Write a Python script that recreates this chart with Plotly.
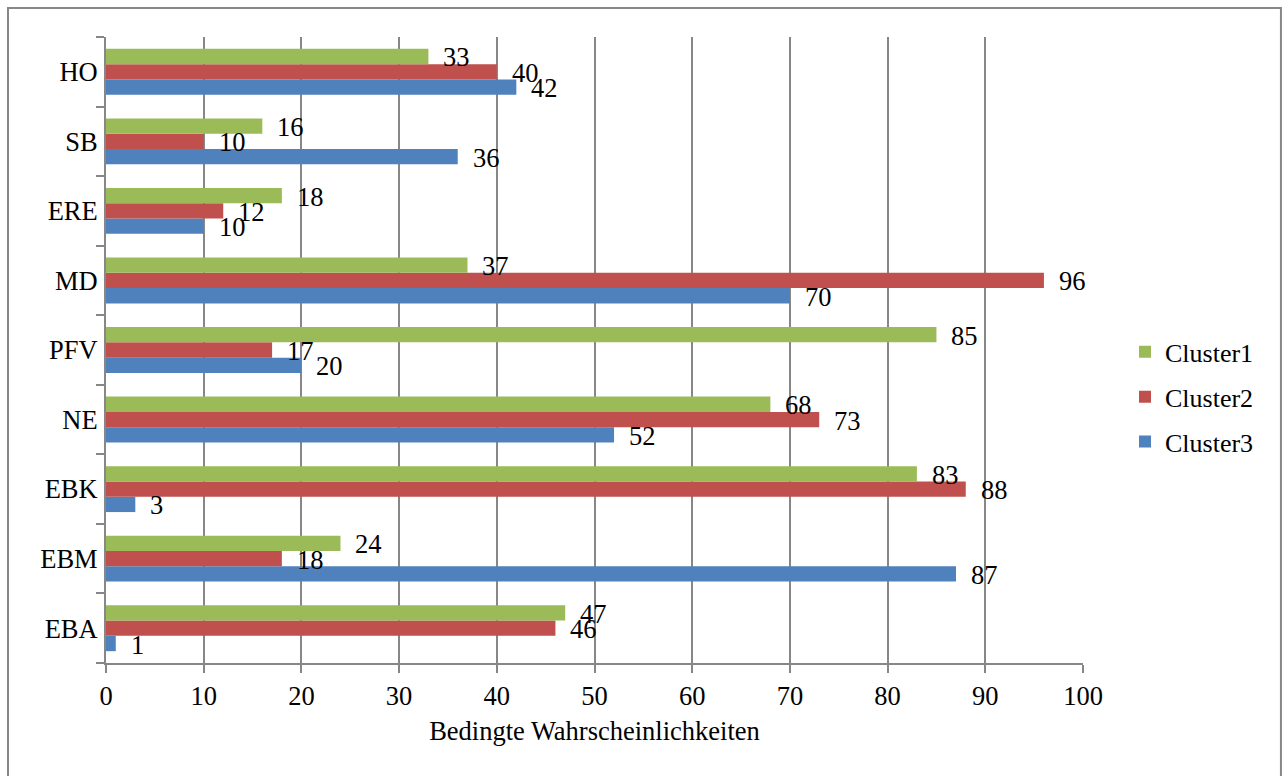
import plotly.graph_objects as go

# Categories listed bottom to top
categories = ["EBA", "EBM", "EBK", "NE", "PFV", "MD", "ERE", "SB", "HO"]
cluster1 = [47, 24, 83, 68, 85, 37, 18, 16, 33]
cluster2 = [46, 18, 88, 73, 17, 96, 12, 10, 40]
cluster3 = [1, 87, 3, 52, 20, 70, 10, 36, 42]
x_ticks = [0, 10, 20, 30, 40, 50, 60, 70, 80, 90, 100]

FONT = "Liberation Serif, Times New Roman, serif"
FS = 26.5
GRID = "#878787"
BARGAP = 0.34

# Plotly stacks grouped horizontal bars bottom-up in trace order,
# so Cluster3 goes first to sit at the bottom of each group.
# The last field is the legend rank (Cluster1 listed on top).
series = [
    ("Cluster3", cluster3, "#4F81BD", 3),
    ("Cluster2", cluster2, "#C0504D", 2),
    ("Cluster1", cluster1, "#9BBB59", 1),
]

positions = list(range(len(categories)))
bar_w = (1 - BARGAP) / len(series)

fig = go.Figure()
annotations = []
for k, (name, vals, color, rank) in enumerate(series):
    fig.add_trace(go.Bar(
        name=name, x=vals, y=positions, orientation="h",
        marker=dict(color=color, line=dict(width=0)),
        legendgroup=name, legendrank=rank,
    ))
    offset = -(1 - BARGAP) / 2 + bar_w * (k + 0.5)
    for p, v in zip(positions, vals):
        annotations.append(dict(
            x=v, y=p + offset, text=str(v), showarrow=False,
            xanchor="left", yanchor="middle", xshift=13, yshift=-1,
            font=dict(family=FONT, size=FS, color="black"),
        ))

fig.update_layout(
    width=1282, height=776,
    margin=dict(l=106, r=199, t=37, b=113),
    paper_bgcolor="white", plot_bgcolor="white",
    barmode="group", bargap=BARGAP, bargroupgap=0,
    font=dict(family=FONT, size=FS, color="black"),
    annotations=annotations,
    showlegend=True,
    legend=dict(
        x=1.043, y=0.425, xanchor="left", yanchor="middle",
        traceorder="grouped", tracegroupgap=8,
        font=dict(family=FONT, size=26, color="black"),
        itemwidth=30, bgcolor="rgba(0,0,0,0)",
    ),
    shapes=[dict(
        type="rect", xref="paper", yref="paper",
        x0=-0.1003, x1=1.2026, y0=-0.3, y1=1.0463,
        line=dict(color=GRID, width=2), fillcolor="rgba(0,0,0,0)",
        layer="below",
    )],
)

fig.update_xaxes(
    range=[0, 100], tickvals=x_ticks, ticktext=[str(t) for t in x_ticks],
    showgrid=True, gridcolor=GRID, gridwidth=2,
    showline=True, linecolor=GRID, linewidth=2,
    ticks="outside", ticklen=8, tickcolor=GRID, tickwidth=2,
    tickfont=dict(family=FONT, size=FS, color="black"),
    zeroline=False,
    title=dict(text="Bedingte Wahrscheinlichkeiten",
               font=dict(family=FONT, size=FS, color="black"), standoff=12),
)

fig.update_yaxes(
    range=[-0.5, len(categories) - 0.5],
    tickmode="array", tickvals=positions, ticktext=categories,
    showgrid=False, zeroline=False,
    showline=True, linecolor=GRID, linewidth=2,
    ticks="outside", ticklen=1, tickcolor="rgba(0,0,0,0)",
    tickfont=dict(family=FONT, size=FS, color="black"),
    minor=dict(tickmode="linear", tick0=-0.5, dtick=1, ticks="outside",
               ticklen=8, tickcolor=GRID, tickwidth=2, showgrid=False),
)

fig.write_html("out.html")
